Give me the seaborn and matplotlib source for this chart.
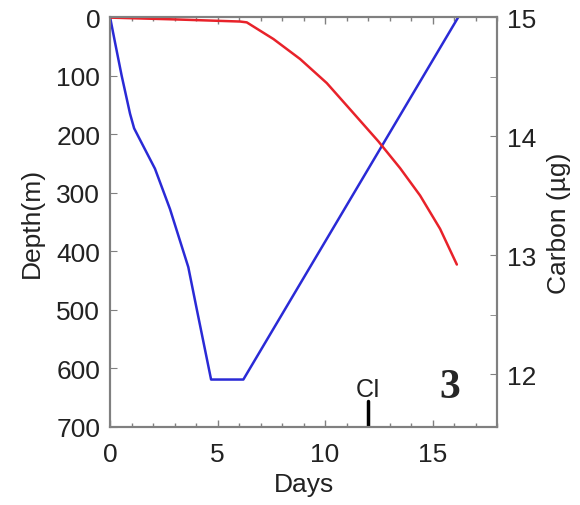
import matplotlib
matplotlib.use("Agg")
import matplotlib.pyplot as plt
import seaborn as sns
import pandas as pd
from matplotlib.ticker import MultipleLocator

sns.set_style("white")
plt.rcParams['font.family'] = ['Liberation Sans', 'DejaVu Sans']

# Depth trajectory (left axis)
depth_days = [0.0, 0.23, 0.54, 0.93, 1.12, 1.4, 2.09, 2.79, 3.64, 4.04, 4.7, 6.2, 16.2]
depth_m = [0, 43, 100, 165, 190, 210, 259, 328, 427, 500, 619, 619, 0]

# Carbon content (right axis)
carbon_days = [0.0, 3.0, 6.05, 6.36, 7.6, 8.84, 10.08, 11.16, 12.48, 13.49,
               14.42, 15.35, 16.13]
carbon_ug = [14.995, 14.98, 14.962, 14.955, 14.815, 14.647, 14.445, 14.225, 13.955,
             13.73, 13.50, 13.22, 12.92]

ci_day = 12.0
ci_label = "CI"
panel_label = "3"

df_d = pd.DataFrame({"Days": depth_days, "Depth": depth_m})
df_c = pd.DataFrame({"Days": carbon_days, "Carbon": carbon_ug})

fig = plt.figure(figsize=(5.8, 5.06), dpi=100)
ax = fig.add_axes([0.1897, 0.1542, 0.857 - 0.1897, 0.9644 - 0.1542])
ax2 = ax.twinx()

sns.lineplot(data=df_d, x="Days", y="Depth", ax=ax, color="#2a2ad6", lw=1.8, sort=False)
sns.lineplot(data=df_c, x="Days", y="Carbon", ax=ax2, color="#e8222a", lw=1.8, sort=False)

ax.set_xlim(0, 18)
ax.set_ylim(700, 0)
ax2.set_ylim(11.555, 15)

fs = 19
ax.set_xticks([0, 5, 10, 15])
ax.set_yticks(range(0, 701, 100))
ax2.set_yticks([12, 13, 14, 15])
ax.xaxis.set_minor_locator(MultipleLocator(1))
ax2.yaxis.set_minor_locator(MultipleLocator(0.5))

ax.tick_params(axis='x', which='both', direction='in', top=True, bottom=True,
               labelsize=fs, colors='#808080', labelcolor='#222222', pad=11)
ax.tick_params(axis='x', which='major', length=5, width=1)
ax.tick_params(axis='x', which='minor', length=3, width=1)
ax.tick_params(axis='y', which='both', direction='in', left=True, length=5,
               labelsize=fs, colors='#808080', labelcolor='#222222', pad=7)
ax2.tick_params(axis='y', which='both', direction='in', right=True, length=5,
                labelsize=fs, colors='#808080', labelcolor='#222222', pad=7)

ax.set_xlabel("Days", fontsize=fs, color='#222222', labelpad=4)
ax.set_ylabel("Depth(m)", fontsize=fs, color='#222222', labelpad=9)
ax2.set_ylabel("Carbon (µg)", fontsize=fs, color='#222222', labelpad=8)

for a in (ax, ax2):
    for s in a.spines.values():
        s.set_visible(True)
        s.set_color('#808080')
        s.set_linewidth(1.5)

ax.axvline(ci_day, ymin=0, ymax=0.063, color='black', lw=2.5)
ax.text(ci_day, 655, ci_label, ha='center', va='bottom', fontsize=fs - 1, color='#222222')
ax.text(0.879, 0.0976, panel_label, transform=ax.transAxes, ha='center', va='center',
        fontsize=30, fontweight='bold', family=['Liberation Serif', 'DejaVu Serif'])

fig.savefig("out.png", dpi=100)
